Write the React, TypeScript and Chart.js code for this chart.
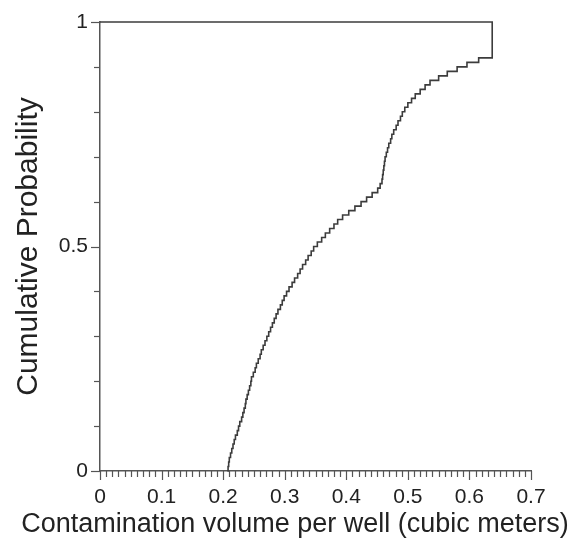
import React, { useEffect, useRef } from "react";
import { Chart, registerables } from "chart.js";

Chart.register(...registerables);

// Empirical CDF of contamination volume per well: the volume (m³) at which
// each cumulative probability level is reached.
const stepVolume = [
  0.207, 0.208, 0.209, 0.210, 0.212, 0.214, 0.216, 0.218, 0.220, 0.223, 0.225,
  0.227, 0.230, 0.232, 0.234, 0.236, 0.237, 0.239, 0.241, 0.243, 0.245,
  0.246, 0.249, 0.252, 0.254, 0.257, 0.260, 0.262, 0.265, 0.268, 0.271,
  0.274, 0.277, 0.280, 0.283, 0.286, 0.289, 0.293, 0.296, 0.299, 0.303,
  0.307, 0.312, 0.316, 0.321, 0.325, 0.329, 0.334, 0.338, 0.343, 0.347,
  0.353, 0.360, 0.366, 0.373, 0.380, 0.386, 0.394, 0.404, 0.414, 0.424,
  0.433, 0.442, 0.451, 0.455, 0.458, 0.459, 0.460, 0.461, 0.462, 0.463,
  0.465, 0.467, 0.469, 0.472, 0.474, 0.477, 0.481, 0.484, 0.488, 0.491,
  0.495, 0.500, 0.506, 0.512, 0.520, 0.528, 0.536, 0.550, 0.564, 0.580,
  0.596, 0.615, 0.637, 0.0,
];

const stepProbability = [
  0.0, 0.01, 0.02, 0.03, 0.04, 0.05, 0.06, 0.07, 0.08, 0.09, 0.10,
  0.11, 0.12, 0.13, 0.14, 0.15, 0.16, 0.17, 0.18, 0.19, 0.20,
  0.21, 0.22, 0.23, 0.24, 0.25, 0.26, 0.27, 0.28, 0.29, 0.30,
  0.31, 0.32, 0.33, 0.34, 0.35, 0.36, 0.37, 0.38, 0.39, 0.40,
  0.41, 0.42, 0.43, 0.44, 0.45, 0.46, 0.47, 0.48, 0.49, 0.50,
  0.51, 0.52, 0.53, 0.54, 0.55, 0.56, 0.57, 0.58, 0.59, 0.60,
  0.61, 0.62, 0.63, 0.64, 0.65, 0.66, 0.67, 0.68, 0.69, 0.70,
  0.71, 0.72, 0.73, 0.74, 0.75, 0.76, 0.77, 0.78, 0.79, 0.80,
  0.81, 0.82, 0.83, 0.84, 0.85, 0.86, 0.87, 0.88, 0.89, 0.90,
  0.91, 0.92, 1.0, 1.0,
];

const xTickLabels = ["0", "0.1", "0.2", "0.3", "0.4", "0.5", "0.6", "0.7"];
const yTickLabels = ["0", "0.5", "1"];
const xMinorStep = 0.01;
const yMinorStep = 0.1;

const xTitle = "Contamination volume per well (cubic meters)";
const yTitle = "Cumulative Probability";

const FONT = '"Liberation Sans", Arial, sans-serif';
const INK = "#222222";
const AXIS = "#555555";

// Draws major/minor tick marks and the two axis titles.
const axisDecor = {
  id: "axisDecor",
  afterDraw(chart: any) {
    const { ctx, scales } = chart;
    const xs = scales.x;
    const ys = scales.y;
    const x0 = xs.getPixelForValue(0);
    const y0 = ys.getPixelForValue(0);
    ctx.save();
    ctx.strokeStyle = AXIS;
    ctx.lineWidth = 1.2;
    const nx = Math.round((xs.max - xs.min) / xMinorStep);
    for (let i = 0; i <= nx; i++) {
      const px = Math.round(xs.getPixelForValue(xs.min + i * xMinorStep)) + 0.5;
      const len = i % 10 === 0 ? 9 : 6;
      ctx.beginPath();
      ctx.moveTo(px, y0);
      ctx.lineTo(px, y0 + len);
      ctx.stroke();
    }
    const ny = Math.round((ys.max - ys.min) / yMinorStep);
    for (let i = 0; i <= ny; i++) {
      const py = Math.round(ys.getPixelForValue(ys.min + i * yMinorStep)) + 0.5;
      const len = i % 5 === 0 ? 9 : 6;
      ctx.beginPath();
      ctx.moveTo(x0, py);
      ctx.lineTo(x0 - len, py);
      ctx.stroke();
    }
    ctx.fillStyle = INK;
    ctx.textAlign = "center";
    ctx.textBaseline = "middle";
    ctx.font = `27px ${FONT}`;
    ctx.fillText(xTitle, 295, 525);
    ctx.font = `30px ${FONT}`;
    ctx.translate(29, (ys.top + ys.bottom) / 2);
    ctx.rotate(-Math.PI / 2);
    ctx.fillText(yTitle, 0, 0);
    ctx.restore();
  },
};

export default function App() {
  const canvasRef = useRef<HTMLCanvasElement | null>(null);

  useEffect(() => {
    const canvas = canvasRef.current;
    if (!canvas) return;
    const points = stepVolume.map((x, i) => ({ x, y: stepProbability[i] }));
    const chart = new Chart(canvas, {
      type: "line",
      data: {
        datasets: [
          {
            data: points,
            borderColor: "#3c3c3c",
            borderWidth: 1.6,
            pointRadius: 0,
            stepped: "before",
            fill: false,
            clip: false,
          } as any,
        ],
      },
      options: {
        animation: false,
        responsive: false,
        devicePixelRatio: 1,
        layout: { padding: { left: 0, top: 22, right: 51, bottom: 0 } },
        plugins: { legend: { display: false }, tooltip: { enabled: false } },
        scales: {
          x: {
            type: "linear",
            min: 0,
            max: 0.7,
            afterFit: (s: any) => {
              s.height = 75;
            },
            afterBuildTicks: (s: any) => {
              s.ticks = xTickLabels.map((t) => ({ value: parseFloat(t) }));
            },
            ticks: {
              autoSkip: false,
              maxRotation: 0,
              padding: 5,
              color: INK,
              font: { family: FONT, size: 21 },
              callback: (_v: any, i: number) => xTickLabels[i],
            },
            grid: {
              display: true,
              drawOnChartArea: false,
              drawTicks: true,
              tickLength: 9,
              tickColor: "rgba(0,0,0,0)",
            },
            border: { display: true, color: AXIS, width: 1.5 },
          },
          y: {
            type: "linear",
            min: 0,
            max: 1,
            afterFit: (s: any) => {
              s.width = 100;
            },
            afterBuildTicks: (s: any) => {
              s.ticks = yTickLabels.map((t) => ({ value: parseFloat(t) }));
            },
            ticks: {
              autoSkip: false,
              padding: 3,
              color: INK,
              font: { family: FONT, size: 21 },
              callback: (_v: any, i: number) => yTickLabels[i],
            },
            grid: {
              display: true,
              drawOnChartArea: false,
              drawTicks: true,
              tickLength: 9,
              tickColor: "rgba(0,0,0,0)",
            },
            border: { display: true, color: AXIS, width: 1.5 },
          },
        },
      },
      plugins: [axisDecor],
    });
    return () => chart.destroy();
  }, []);

  return (
    <div style={{ position: "absolute", left: 0, top: 0, width: 582, height: 546, background: "#fff" }}>
      <canvas ref={canvasRef} width={582} height={546} />
    </div>
  );
}
